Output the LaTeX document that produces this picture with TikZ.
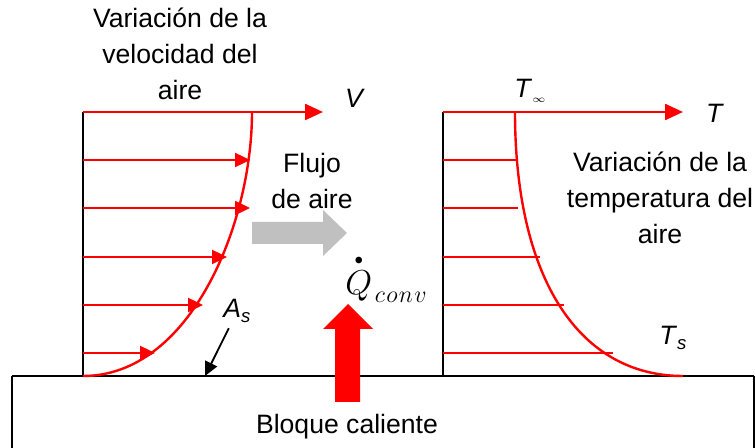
\documentclass[tikz,border=0pt]{standalone}
\usepackage{amsmath,amssymb}
\usepackage{fontspec}
\setmainfont{Liberation Sans}
\usetikzlibrary{arrows.meta,positioning,calc}
\definecolor{flowgray}{RGB}{192,192,192}

\begin{document}
\begin{tikzpicture}[x=0.5pt,y=-0.5pt,
    lbl/.style={font=\fontsize{13.3}{18}\selectfont, align=center, inner sep=0pt},
    prof/.style={red, line width=1.2pt},
    axis/.style={black, line width=0.9pt},
    vtip/.style={-{Triangle[length=7.5pt,width=7pt]}},
    toptip/.style={-{Triangle[length=9pt,width=8pt]}},
    pointer/.style={black, line width=0.9pt, -{Triangle[length=7pt,width=6.5pt]}}]
    \useasboundingbox (0,0) rectangle (755,448);
    % hot block
    \draw[line width=0.9pt] (12,470) -- (12,376);
    \draw[line width=0.6pt] (754,376) -- (754,470);
    \draw[line width=1.1pt] (12,376) coordinate (blk) -- (754,376);
    % velocity profile
    \draw[axis] (83,112) -- (83,376);
    \draw[prof,toptip] (83,112) -- (323,112);
    \draw[prof] (83,376) .. controls (190,376) and (252,225) .. (252,112);
    \foreach \y/\x in {160/250,208/250,257/227,305/203,353/155}
        \draw[prof,vtip] (83,\y) -- (\x,\y);
    % temperature profile
    \draw[axis] (443,112) -- (443,376);
    \draw[prof,toptip] (443,112) -- (683,112);
    \draw[prof] (515,112) .. controls (515,280) and (580,376) .. (683,376);
    \foreach \y/\x in {160/517,208/518,257/540,305/564,353/613}
        \draw[prof] (443,\y) -- (\x,\y);
    % air flow and heat arrows
    \fill[flowgray] (252,222) -- (323,222) -- (323,210) -- (347,233)
        -- (323,256) -- (323,244) -- (252,244) -- cycle;
    \fill[red] (335,402) -- (335,329) -- (323,329) -- (348,304)
        -- (373,329) -- (360,329) -- (360,402) -- cycle;
    % labels
    \node[lbl] (vtitle) at (180,54) {Variación de la\\velocidad del\\aire};
    \node[lbl] (ttitle) at (660,198) {Variación de la\\temperatura del\\aire};
    \node[lbl] (flow) at (312,181) {Flujo\\de aire};
    \node[lbl,anchor=base] (block) at (347,434) {Bloque caliente};
    \node[lbl,anchor=base] (V) at (355,108) {\textit{V}};
    \node[lbl,anchor=base] (T) at (715,123) {\textit{T}};
    \node[lbl,anchor=base west] (Tinf) at (514,98) {\textit{T}\textsubscript{$\scriptscriptstyle\infty$}};
    \node[lbl,anchor=base west] (Ts) at (659,345) {\textit{T}\textsubscript{\textit{s}}};
    \node[lbl,anchor=base west] (As) at (223,318) {\textit{A}\textsubscript{\textit{s}}};
    \node[inner sep=0pt,anchor=base west,font=\fontsize{17}{20}\selectfont] (Q) at (345,295)
        {$\overset{\scriptscriptstyle\bullet}{Q}_{\mkern2mu c\mkern1mu o\mkern1mu n\mkern1mu v}$};
    \coordinate (asurf) at (205,376);
    \draw[pointer,shorten <=3pt] (As) -- (asurf);
\end{tikzpicture}
\end{document}
